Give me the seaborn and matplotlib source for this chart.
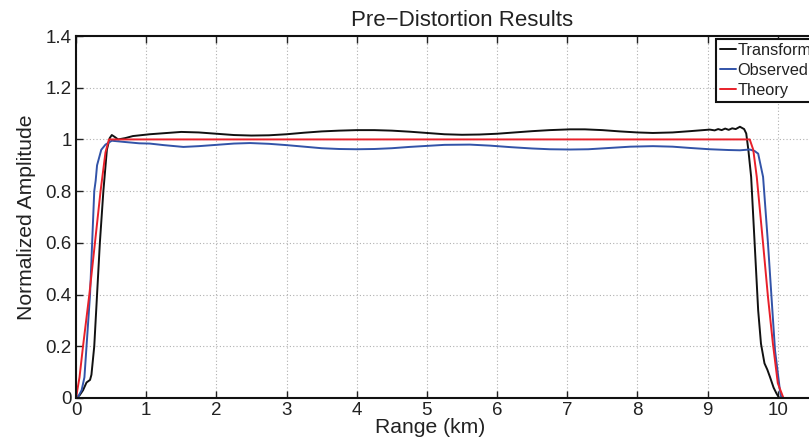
import numpy as np
import pandas as pd
import matplotlib
matplotlib.use("Agg")
import matplotlib.pyplot as plt
import seaborn as sns

# ---------------- data ----------------
trans_x = [0, 0.05, 0.1, 0.15, 0.2, 0.22, 0.26, 0.30, 0.34, 0.39, 0.44, 0.48, 0.51, 0.55, 0.60, 0.7, 0.81,
           1.05, 1.25, 1.5, 1.75, 2.0, 2.25, 2.5, 2.75, 3.0, 3.25, 3.5, 3.75, 4.0, 4.25, 4.5, 4.75, 5.0,
           5.25, 5.5, 5.75, 6.0, 6.25, 6.5, 6.75, 7.04, 7.25, 7.5, 7.75, 8.0, 8.22, 8.5, 8.75, 9.03,
           9.1, 9.15, 9.2, 9.25, 9.3, 9.35, 9.4, 9.46, 9.52, 9.55, 9.58, 9.62, 9.67, 9.72, 9.76, 9.81,
           9.85, 9.89, 9.94, 9.98, 10.02]
trans_y = [0, 0.01, 0.03, 0.06, 0.07, 0.09, 0.2, 0.4, 0.6, 0.8, 0.96, 1.005, 1.017, 1.01, 1.0, 1.005, 1.013,
           1.02, 1.024, 1.029, 1.027, 1.022, 1.017, 1.015, 1.016, 1.02, 1.026, 1.031, 1.034, 1.036, 1.036,
           1.034, 1.03, 1.025, 1.02, 1.018, 1.019, 1.022, 1.027, 1.032, 1.036, 1.039, 1.039, 1.036, 1.031,
           1.027, 1.025, 1.027, 1.032, 1.038, 1.035, 1.04, 1.036, 1.042, 1.037, 1.043, 1.04, 1.049, 1.04,
           1.023, 0.96, 0.855, 0.597, 0.339, 0.21, 0.134, 0.11, 0.08, 0.04, 0.018, 0]

obs_x = [0, 0.04, 0.08, 0.12, 0.15, 0.18, 0.2, 0.23, 0.26, 0.28, 0.30, 0.33, 0.36, 0.42, 0.51, 0.7, 0.9,
         1.05, 1.25, 1.53, 1.75, 2.0, 2.25, 2.48, 2.75, 3.0, 3.25, 3.5, 3.75, 4.0, 4.25, 4.5, 4.75, 5.0,
         5.25, 5.61, 5.9, 6.2, 6.5, 6.75, 7.04, 7.3, 7.6, 7.9, 8.22, 8.5, 8.75, 9.03, 9.3, 9.46, 9.6,
         9.67, 9.72, 9.79, 9.86, 9.91, 9.96, 10.03, 10.05]
obs_y = [0, 0.01, 0.03, 0.08, 0.2, 0.32, 0.4, 0.6, 0.8, 0.84, 0.9, 0.93, 0.96, 0.98, 0.995, 0.99, 0.985,
         0.984, 0.978, 0.971, 0.974, 0.979, 0.984, 0.986, 0.983, 0.978, 0.972, 0.966, 0.963, 0.962, 0.963,
         0.966, 0.971, 0.975, 0.979, 0.980, 0.976, 0.97, 0.965, 0.962, 0.961, 0.962, 0.967, 0.972, 0.974,
         0.972, 0.967, 0.962, 0.959, 0.958, 0.961, 0.955, 0.945, 0.855, 0.597, 0.39, 0.185, 0.03, 0]

theory_x = [0, 0.05, 0.1, 0.19, 0.27, 0.35, 0.42, 0.47, 9.6, 9.65, 9.70, 9.79, 9.86, 9.93, 10.0, 10.08]
theory_y = [0, 0.08, 0.2, 0.4, 0.6, 0.8, 0.95, 1.0, 1.0, 0.96, 0.855, 0.597, 0.39, 0.21, 0.057, 0]

series_names = ["Transformed", "Observed", "Theory"]
series_colors = ["#111111", "#3253a8", "#e8202a"]

x_ticks = [0, 1, 2, 3, 4, 5, 6, 7, 8, 9, 10, 11]
x_tick_labels = ["0", "1", "2", "3", "4", "5", "6", "7", "8", "9", "10", ""]
y_ticks = [0, 0.2, 0.4, 0.6, 0.8, 1.0, 1.2, 1.4]
y_tick_labels = ["0", "0.2", "0.4", "0.6", "0.8", "1", "1.2", "1.4"]

# ---------------- plot ----------------
sns.set_style("ticks")
plt.rcParams["font.family"] = ["Liberation Sans", "DejaVu Sans"]

W, H = 809, 443
fig = plt.figure(figsize=(W / 100, H / 100), dpi=100)
left, right, bottom, top = 76, 848, 398, 36
ax = fig.add_axes([left / W, (H - bottom) / H, (right - left) / W, (bottom - top) / H])

frames = [
    pd.DataFrame({"x": trans_x, "y": trans_y, "s": series_names[0]}),
    pd.DataFrame({"x": obs_x, "y": obs_y, "s": series_names[1]}),
    pd.DataFrame({"x": theory_x, "y": theory_y, "s": series_names[2]}),
]
for df, c, n in zip(frames, series_colors, series_names):
    sns.lineplot(data=df, x="x", y="y", ax=ax, color=c, lw=1.4, sort=False,
                 estimator=None, label=n)

ax.set_xlim(0, 11)
ax.set_ylim(0, 1.4)
ax.set_xticks(x_ticks)
ax.set_yticks(y_ticks)
ax.set_xticklabels(x_tick_labels)
ax.set_yticklabels(y_tick_labels)
ax.tick_params(direction="in", top=True, right=True, length=5, width=1.0,
               labelsize=13.5, colors="#222222", pad=3)
ax.grid(True, linestyle=(0, (1, 2)), color="#b0b0b0", lw=0.8)
for sp in ax.spines.values():
    sp.set_linewidth(1.5)
    sp.set_color("#111111")

ax.set_title("Pre\u2212Distortion Results", fontsize=16, color="#222222", pad=7)
ax.set_xlabel("Range (km)", fontsize=15.2, color="#222222", labelpad=-1)
ax.xaxis.set_label_coords((430 - left) / (right - left), -0.055)
ax.set_ylabel("Normalized Amplitude", fontsize=15.2, color="#222222", labelpad=7)

leg = ax.legend(loc="upper left", bbox_to_anchor=(716 / W, 1 - 39 / H),
                bbox_transform=fig.transFigure, borderaxespad=0, fontsize=11.8,
                handlelength=0.95, handletextpad=0.1, labelspacing=0.3,
                borderpad=0.25, fancybox=False, framealpha=1, edgecolor="#111111")
leg.get_frame().set_linewidth(1.5)
for t in leg.get_texts():
    t.set_color("#222222")

fig.savefig("out.png", dpi=100)
